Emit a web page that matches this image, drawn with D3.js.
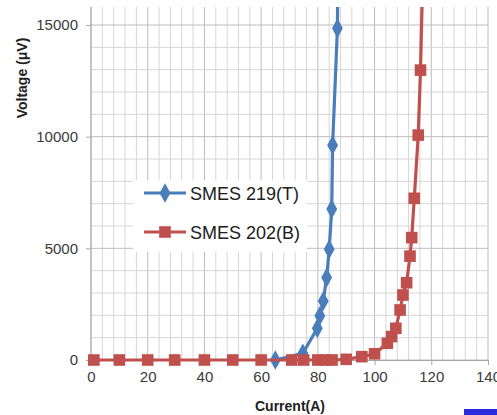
<!DOCTYPE html>
<html><head><meta charset="utf-8">
<script src="https://cdn.jsdelivr.net/npm/d3@7"></script>
<style>html,body{margin:0;padding:0;background:#fff;} svg{display:block;}</style>
</head><body>
<svg id="c" width="497" height="415"></svg>
<script>
// ---- data ----
const seriesNames = ["SMES 219(T)", "SMES 202(B)"];
const blueCurrent = [65, 74.7, 79.8, 80.7, 81.9, 83.1, 84.0, 84.9, 85.2, 86.9, 87.2];
const blueVoltage = [0, 300, 1420, 1980, 2640, 3690, 4960, 6760, 9620, 14850, 20000];
const redCurrent = [1, 10, 20, 29.5, 40, 50, 60, 70.8, 75, 80, 82.5, 85, 90, 95.5, 100, 104.5, 106, 107.5, 109, 110, 111.3, 112.5, 113.1, 114, 115.4, 116.2, 117.5];
const redVoltage = [0, 0, 0, 0, 0, 0, 0, 0, 0, 0, 0, 0, 30, 150, 280, 750, 1050, 1420, 2240, 2910, 3460, 4650, 5480, 7240, 10070, 12980, 20000];
const xTicks = [0, 20, 40, 60, 80, 100, 120, 140];
const yTicks = [0, 5000, 10000, 15000];
const xMinor = d3.range(0, 141, 4);
const yMinor = d3.range(0, 15001, 1000);

const svg = d3.select("#c");
const x = d3.scaleLinear().domain([0, 140]).range([91, 488]);
const y = d3.scaleLinear().domain([0, 15000]).range([360, 25]);
const plotTop = 7;

const blue = "#4A7EBB", red = "#C0504D";
const font = "'Liberation Sans', Arial, sans-serif";

// gridlines
const g = svg.append("g");
g.selectAll(".vx").data(xMinor).join("line")
  .attr("x1", d => x(d)).attr("x2", d => x(d))
  .attr("y1", plotTop).attr("y2", y(0))
  .attr("stroke", d => d % 20 === 0 ? "#bdbdbd" : "#d6d6d6").attr("stroke-width", 1);
g.selectAll(".hy").data(yMinor).join("line")
  .attr("x1", x(0)).attr("x2", x(140))
  .attr("y1", d => y(d)).attr("y2", d => y(d))
  .attr("stroke", d => d % 5000 === 0 ? "#bdbdbd" : "#d6d6d6").attr("stroke-width", 1);

// axes
const xAxis = d3.axisBottom(x).tickValues(xTicks).tickSize(5).tickPadding(6).tickSizeOuter(0).tickFormat(d3.format("d"));
const yAxis = d3.axisLeft(y).tickValues(yTicks).tickSize(5).tickPadding(8).tickSizeOuter(0).tickFormat(d3.format("d"));
const gx = svg.append("g").attr("transform", `translate(0,${y(0)})`).call(xAxis);
const gy = svg.append("g").attr("transform", `translate(${x(0)},0)`).call(yAxis);
[gx, gy].forEach(a => {
  a.select(".domain").attr("stroke", "#a6a6a6");
  a.selectAll(".tick line").attr("stroke", "#a6a6a6");
  a.selectAll(".tick text").attr("fill", "#3a3a3a").style("font-family", font).style("font-size", "15px");
});
gy.select(".domain").attr("d", `M0,${plotTop}V${y(0)}`);

// clip
svg.append("clipPath").attr("id", "clip").append("rect")
  .attr("x", x(0) - 10).attr("y", plotTop).attr("width", x(140) - x(0) + 20).attr("height", y(0) - plotTop + 20);

const line = d3.line().x(d => x(d[0])).y(d => y(d[1]));
const blueData = blueCurrent.map((c, i) => [c, blueVoltage[i]]);
const redData = redCurrent.map((c, i) => [c, redVoltage[i]]);

const series = svg.append("g").attr("clip-path", "url(#clip)");
const diamond = d3.symbol().type(d3.symbolDiamond).size(85);
const square = d3.symbol().type(d3.symbolSquare).size(135);

series.append("path").datum(blueData).attr("d", line).attr("fill", "none").attr("stroke", blue).attr("stroke-width", 3.2);
series.selectAll(".bm").data(blueData).join("path")
  .attr("d", diamond).attr("transform", d => `translate(${x(d[0])},${y(d[1])}) scale(1.1,1.15)`).attr("fill", blue);

series.append("path").datum(redData).attr("d", line).attr("fill", "none").attr("stroke", red).attr("stroke-width", 3.2);
series.selectAll(".rm").data(redData).join("path")
  .attr("d", square).attr("transform", d => `translate(${x(d[0])},${y(d[1])})`).attr("fill", red);

// legend
const lg = svg.append("g");
lg.append("rect").attr("x", 133).attr("y", 180).attr("width", 174).attr("height", 72).attr("fill", "#fff");
const entries = [{name: seriesNames[0], color: blue, sym: diamond, yy: 193, sc: "scale(1.1,1.15)"},
                 {name: seriesNames[1], color: red, sym: square, yy: 232, sc: ""}];
entries.forEach(e => {
  lg.append("line").attr("x1", 144).attr("x2", 186).attr("y1", e.yy).attr("y2", e.yy).attr("stroke", e.color).attr("stroke-width", 3.2);
  lg.append("path").attr("d", e.sym).attr("transform", `translate(165,${e.yy}) ${e.sc}`).attr("fill", e.color);
  lg.append("text").attr("x", 190).attr("y", e.yy + 6.5).text(e.name)
    .attr("fill", "#202020").style("font-family", font).style("font-size", "18px");
});

// axis titles
svg.append("text").attr("x", 290).attr("y", 411).attr("text-anchor", "middle")
  .text("Current(A)").attr("fill", "#202020").style("font-family", font).style("font-size", "14px").style("font-weight", "bold");
svg.append("text").attr("transform", "translate(27,78) rotate(-90)").attr("text-anchor", "middle")
  .text("Voltage (μV)").attr("fill", "#202020").style("font-family", font).style("font-size", "14px").style("font-weight", "bold");

// blue bar at bottom right edge of picture
svg.append("rect").attr("x", 464).attr("y", 409).attr("width", 33).attr("height", 6).attr("fill", "#2b2bdd");
</script>
</body></html>
